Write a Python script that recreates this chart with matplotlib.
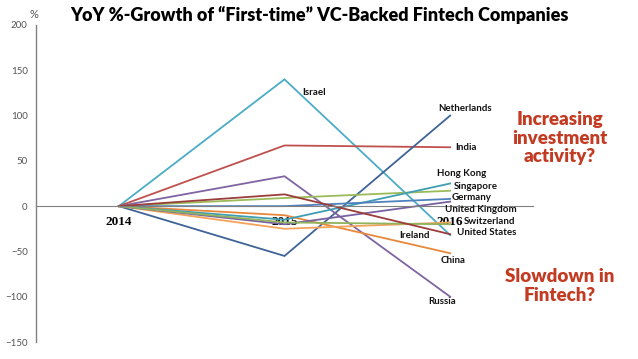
import matplotlib.pyplot as plt
import numpy as np

years = ['2014', '2015', '2016']
countries = ['Israel', 'India', 'Netherlands', 'Russia', 'China', 'Switzerland',
             'Hong Kong', 'Singapore', 'Germany', 'United Kingdom', 'Ireland',
             'United States']
growth_2014 = [0, 0, 0, 0, 0, 0, 0, 0, 0, 0, 0, 0]
growth_2015 = [140, 67, -55, 33, -10, -25, 9, -15, 0, -20, -18, 13]
growth_2016 = [-32, 65, 100, -100, -52, -18, 17, 25, 8, 5, -20, -31]

colors = ['#4BACC6', '#C0504D', '#3E6396', '#8064A2', '#E8883A', '#F5A35A',
          '#9BBB59', '#3F9DB3', '#4F81BD', '#7760A0', '#8FB35E', '#9B3D3A']

# where each country's name sits (data coords), left aligned
label_pos = {
    'Israel': (1.11, 125), 'Netherlands': (1.93, 108), 'India': (2.03, 65),
    'Hong Kong': (1.92, 36), 'Singapore': (2.02, 22), 'Germany': (2.01, 9),
    'United Kingdom': (1.97, -4), 'Switzerland': (2.08, -17),
    'United States': (2.04, -29), 'Ireland': (1.69, -32),
    'China': (1.94, -60), 'Russia': (1.87, -105),
}

fig = plt.figure(figsize=(6.38, 3.59), dpi=100)
ax = fig.add_axes([36 / 638, 17 / 359, (533 - 36) / 638, (342 - 25) / 359])

# spine position first - it resets the ticks
for s in ['top', 'right']:
    ax.spines[s].set_visible(False)
ax.spines['bottom'].set_position(('data', 0))
ax.spines['bottom'].set_color('#808080')
ax.spines['left'].set_color('#808080')
ax.spines['left'].set_linewidth(1.0)

x = np.arange(len(years))
for i, name in enumerate(countries):
    vals = [growth_2014[i], growth_2015[i], growth_2016[i]]
    ax.plot(x, vals, color=colors[i], lw=1.3, solid_joinstyle='miter')
    lx, ly = label_pos[name]
    ax.text(lx, ly, name, fontsize=7, family='Lato', fontweight='bold',
            ha='left', va='center', color='#111111')

ax.set_xlim(-0.5, 2.5)
ax.set_ylim(-150, 200)
ax.set_yticks(np.arange(-150, 201, 50))
ax.tick_params(axis='y', length=0, labelsize=7, labelcolor='#555555', pad=6)
ax.set_xticks(x)
ax.set_xticklabels(years, fontfamily='Liberation Serif', fontweight='bold',
                   fontsize=9.5)
ax.tick_params(axis='x', length=0, pad=7)
for lab in ax.get_yticklabels():
    lab.set_fontfamily('Lato')

fig.text(34 / 638, 1 - 14 / 359, '%', fontsize=8, color='#555555',
         ha='center', va='center', family='Lato')
fig.text(319 / 638, 1 - 15 / 359,
         'YoY %-Growth of \u201cFirst-time\u201d VC-Backed Fintech Companies',
         fontsize=13, fontweight='heavy', family='Lato', ha='center',
         va='center')

red = '#C23B22'
fig.text(560 / 638, 1 - 138 / 359, 'Increasing\ninvestment\nactivity?',
         fontsize=13.5, fontweight='heavy', family='Lato', color=red,
         ha='center', va='center', linespacing=1.1)
fig.text(560 / 638, 1 - 286 / 359, 'Slowdown in\nFintech?',
         fontsize=13.5, fontweight='heavy', family='Lato', color=red,
         ha='center', va='center', linespacing=1.15)

fig.savefig('out.png', dpi=100)
